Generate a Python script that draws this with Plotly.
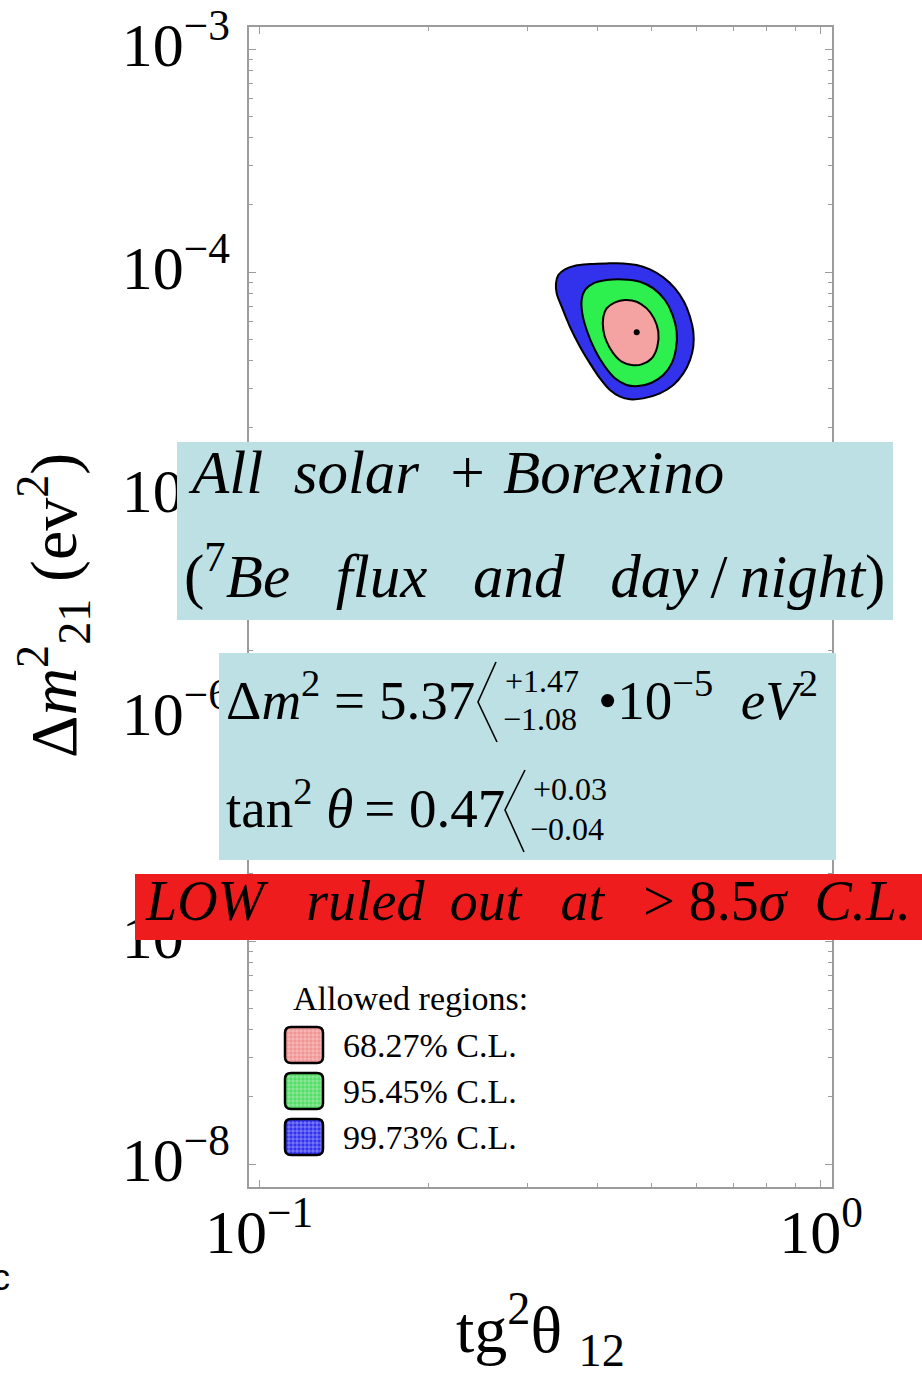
import plotly.graph_objects as go

# ---- allowed-region contours: tan^2(theta12) vs delta m^2_21 [eV^2] ----
cl9973_tan2 = [0.3376, 0.3409, 0.3503, 0.3650, 0.3881, 0.4155, 0.4449, 0.4699, 0.4963,
               0.5241, 0.5498, 0.5705, 0.5847, 0.5927, 0.5927, 0.5847, 0.5689, 0.5461,
               0.5170, 0.4829, 0.4572, 0.4389, 0.4212, 0.4043, 0.3881, 0.3725, 0.3575,
               0.3456, 0.3386]
cl9973_dm2 = [8.899e-5, 9.698e-5, 1.0284e-4, 1.0679e-4, 1.0864e-4, 1.0939e-4, 1.0939e-4,
              1.0753e-4, 1.0284e-4, 9.468e-5, 8.451e-5, 7.364e-5, 6.308e-5, 5.402e-5,
              4.627e-5, 4.032e-5, 3.513e-5, 3.115e-5, 2.857e-5, 2.714e-5, 2.687e-5,
              2.761e-5, 2.958e-5, 3.337e-5, 3.896e-5, 4.627e-5, 5.688e-5, 6.993e-5,
              8.025e-5]

cl9545_tan2 = [0.3751, 0.3802, 0.3935, 0.4155, 0.4449, 0.4764, 0.5031, 0.5277, 0.5446,
               0.5536, 0.5521, 0.5424, 0.5241, 0.4997, 0.4731, 0.4510, 0.4300, 0.4127,
               0.3961, 0.3829, 0.3761]
cl9545_dm2 = [7.492e-5, 8.306e-5, 8.899e-5, 9.209e-5, 9.273e-5, 9.053e-5, 8.451e-5,
              7.492e-5, 6.417e-5, 5.402e-5, 4.548e-5, 3.896e-5, 3.453e-5, 3.190e-5,
              3.082e-5, 3.115e-5, 3.337e-5, 3.764e-5, 4.470e-5, 5.496e-5, 6.529e-5]

cl6827_tan2 = [0.4099, 0.4155, 0.4300, 0.4480, 0.4699, 0.4896, 0.5045, 0.5135, 0.5114,
               0.4997, 0.4796, 0.4604, 0.4419, 0.4271, 0.4155, 0.4099]
cl6827_dm2 = [6.308e-5, 6.874e-5, 7.314e-5, 7.492e-5, 7.364e-5, 6.874e-5, 6.200e-5,
              5.402e-5, 4.627e-5, 4.102e-5, 3.856e-5, 3.829e-5, 3.964e-5, 4.319e-5,
              4.873e-5, 5.496e-5]

# best-fit point
best_tan2 = [0.47]
best_dm2 = [5.37e-5]

# ---- axes ----
x_tickvals = [0.1, 1.0]
x_ticktext = ["10<sup>\u22121</sup>", "10<sup>0</sup>"]
x_minor = [0.2, 0.3, 0.4, 0.5, 0.6, 0.7, 0.8, 0.9]
y_tickvals = [1e-8, 1e-7, 1e-6, 1e-5, 1e-4, 1e-3]
y_ticktext = ["10<sup>\u22128</sup>", "10<sup>\u22127</sup>", "10<sup>\u22126</sup>",
              "10<sup>\u22125</sup>", "10<sup>\u22124</sup>", "10<sup>\u22123</sup>"]
y_minor = [m * 10.0 ** k for k in range(-8, -3) for m in range(2, 10)]

levels = ["68.27% C.L.", "95.45% C.L.", "99.73% C.L."]
fill_68, fill_95, fill_99 = "#F5A2A2", "#2DEF4D", "#3232EC"
swatch_fill = ["#F29494", "#52DD66", "#3434F0"]

SERIF = "Liberation Serif, Times New Roman, serif"
FRAME = "#9c9c9c"

# plot-area geometry in pixels (for placing the overlaid boxes and texts)
L, T, W, H = 249, 27, 583, 1160


def fx(p):
    return (p - L) / W


def fy(p):
    return (T + H - p) / H


fig = go.Figure()

for xs, ys, col in [(cl9973_tan2, cl9973_dm2, fill_99),
                    (cl9545_tan2, cl9545_dm2, fill_95),
                    (cl6827_tan2, cl6827_dm2, fill_68)]:
    fig.add_trace(go.Scatter(
        x=xs + xs[:1], y=ys + ys[:1], mode="lines", fill="toself", fillcolor=col,
        line=dict(color="black", width=2, shape="spline", smoothing=1.0),
        hoverinfo="skip", showlegend=False))

fig.add_trace(go.Scatter(x=best_tan2, y=best_dm2, mode="markers",
                         marker=dict(color="black", size=6), showlegend=False))

axis_common = dict(
    type="log", ticks="inside", ticklen=7, tickwidth=1, tickcolor=FRAME,
    showline=True, linecolor=FRAME, linewidth=1.5, mirror="allticks",
    showgrid=False, zeroline=False, ticklabeloverflow="allow", automargin=False,
    tickfont=dict(family=SERIF, size=62, color="black"),
)
fig.update_xaxes(range=[-1.0178, 0.0196], tickvals=x_tickvals, ticktext=x_ticktext,
                 ticklabelstandoff=-10,
                 minor=dict(tickvals=x_minor, ticks="inside", ticklen=4,
                            tickcolor=FRAME, showgrid=False),
                 **axis_common)
fig.update_yaxes(range=[-8.103, -2.901], tickvals=y_tickvals, ticktext=y_ticktext,
                 ticklabelstandoff=5, ticklabelshift=-5,
                 minor=dict(tickvals=y_minor, ticks="inside", ticklen=4,
                            tickcolor=FRAME, showgrid=False),
                 **axis_common)

shapes = []
annotations = []


def box(x0, y0, x1, y1, color):
    shapes.append(dict(type="rect", xref="paper", yref="paper", layer="above",
                       x0=fx(x0), x1=fx(x1), y0=fy(y1), y1=fy(y0),
                       fillcolor=color, line=dict(width=0)))


def text(s, left, baseline, size, anchor="left", family=SERIF, angle=0):
    annotations.append(dict(text=s, xref="paper", yref="paper", showarrow=False,
                            x=fx(left), y=fy(baseline - 0.34 * size),
                            xanchor=anchor, yanchor="middle", textangle=angle,
                            font=dict(family=family, size=size, color="black")))


def bracket(xt, yt, xm, ym, xb, yb):
    shapes.append(dict(type="path", xref="paper", yref="paper", layer="above",
                       path=f"M{fx(xt)},{fy(yt)} L{fx(xm)},{fy(ym)} L{fx(xb)},{fy(yb)}",
                       line=dict(color="black", width=1.6)))


def hline(x0, x1, y, color, width, opacity):
    shapes.append(dict(type="line", xref="paper", yref="paper", layer="above",
                       x0=fx(x0), x1=fx(x1), y0=fy(y), y1=fy(y), opacity=opacity,
                       line=dict(color=color, width=width)))


def vline(x, y0, y1, color, width, opacity):
    shapes.append(dict(type="line", xref="paper", yref="paper", layer="above",
                       x0=fx(x), x1=fx(x), y0=fy(y0), y1=fy(y1), opacity=opacity,
                       line=dict(color=color, width=width)))


NB = "\u00a0"
TH = "\u2009"

# data-set description
box(177, 442, 893, 620, "#BCE0E3")
text(f"<i>All{NB*2}solar{NB}{TH}+{NB}Borexino</i>", 186, 493, 61)
text(f"(<sup>7</sup><i>Be{NB*3}flux{NB*3}and{NB*3}day</i>{TH}/{TH}<i>night</i>)",
     182, 593, 61)

# best-fit values
box(219, 653, 836, 860, "#BCE0E3")
text(f"\u0394<i>m</i><sup>2</sup> = 5.37", 224, 715, 55)
bracket(496, 662, 478, 702, 497, 742)
text("+1.47", 503, 692, 32)
text("\u22121.08", 501, 730, 32)
text(f"\u202210<sup>\u22125</sup>{NB*2}<i>eV</i><sup>2</sup>", 596, 715, 55)
text(f"tan<sup>2</sup> <i>\u03b8</i>{TH}={NB}0.47", 224, 823, 55)
bracket(525, 770, 505, 810, 524, 852)
text("+0.03", 531, 800, 32)
text("\u22120.04", 528, 840, 32)

# exclusion statement
box(135, 874, 922, 940, "#EE1C1C")
text(f"<i>LOW</i>{NB*3}<i>ruled</i>{NB}{TH}<i>out</i>{NB*2}{TH}<i>at</i>{NB*2}{TH}&gt;"
     f"{NB}8.5<i>\u03c3</i>{NB*2}<i>C.L.</i>", 143, 920, 56)

# legend
text("Allowed regions:", 291, 1010, 34)
r = 6.0
for (top, lab, col) in zip([1027, 1073, 1119], levels, swatch_fill):
    x0, x1, y0, y1 = 285, 323, top, top + 36
    rx, ry = r / W, r / H
    X0, X1, Y0, Y1 = fx(x0), fx(x1), fy(y1), fy(y0)
    path = (f"M{X0 + rx},{Y1} L{X1 - rx},{Y1} Q{X1},{Y1} {X1},{Y1 - ry} "
            f"L{X1},{Y0 + ry} Q{X1},{Y0} {X1 - rx},{Y0} L{X0 + rx},{Y0} "
            f"Q{X0},{Y0} {X0},{Y0 + ry} L{X0},{Y1 - ry} Q{X0},{Y1} {X0 + rx},{Y1} Z")
    shapes.append(dict(type="path", xref="paper", yref="paper", layer="above", path=path,
                       fillcolor=col, line=dict(color="black", width=0)))
    # fine hatch grid inside the swatch
    for gx in range(x0 + 4, x1 - 1, 4):
        vline(gx, y0 + 2, y1 - 2, "white", 1, 0.35)
    for gy in range(y0 + 4, y1 - 1, 4):
        hline(x0 + 2, x1 - 2, gy, "white", 1, 0.35)
    shapes.append(dict(type="path", xref="paper", yref="paper", layer="above", path=path,
                       fillcolor="rgba(0,0,0,0)", line=dict(color="black", width=2.5)))
    text(lab, 341, top + 30, 34)

# axis titles
text("\u0394<i>m</i><sup>2</sup><sub>21</sub> (ev<sup>2</sup>)", 53, 606 + 0.34 * 66, 66,
     anchor="center", angle=-90)
text("tg<sup>2</sup>\u03b8 <sub>12</sub>", 540, 1352, 66, anchor="center")
text("c", 1, 1290, 36, anchor="center", family="Liberation Sans, Arial, sans-serif")

fig.update_layout(
    width=922, height=1375,
    margin=dict(l=L, r=922 - L - W, t=T, b=1375 - T - H, pad=0, autoexpand=False),
    plot_bgcolor="white", paper_bgcolor="white", showlegend=False,
    shapes=shapes, annotations=annotations,
)

fig.write_html("out.html")
